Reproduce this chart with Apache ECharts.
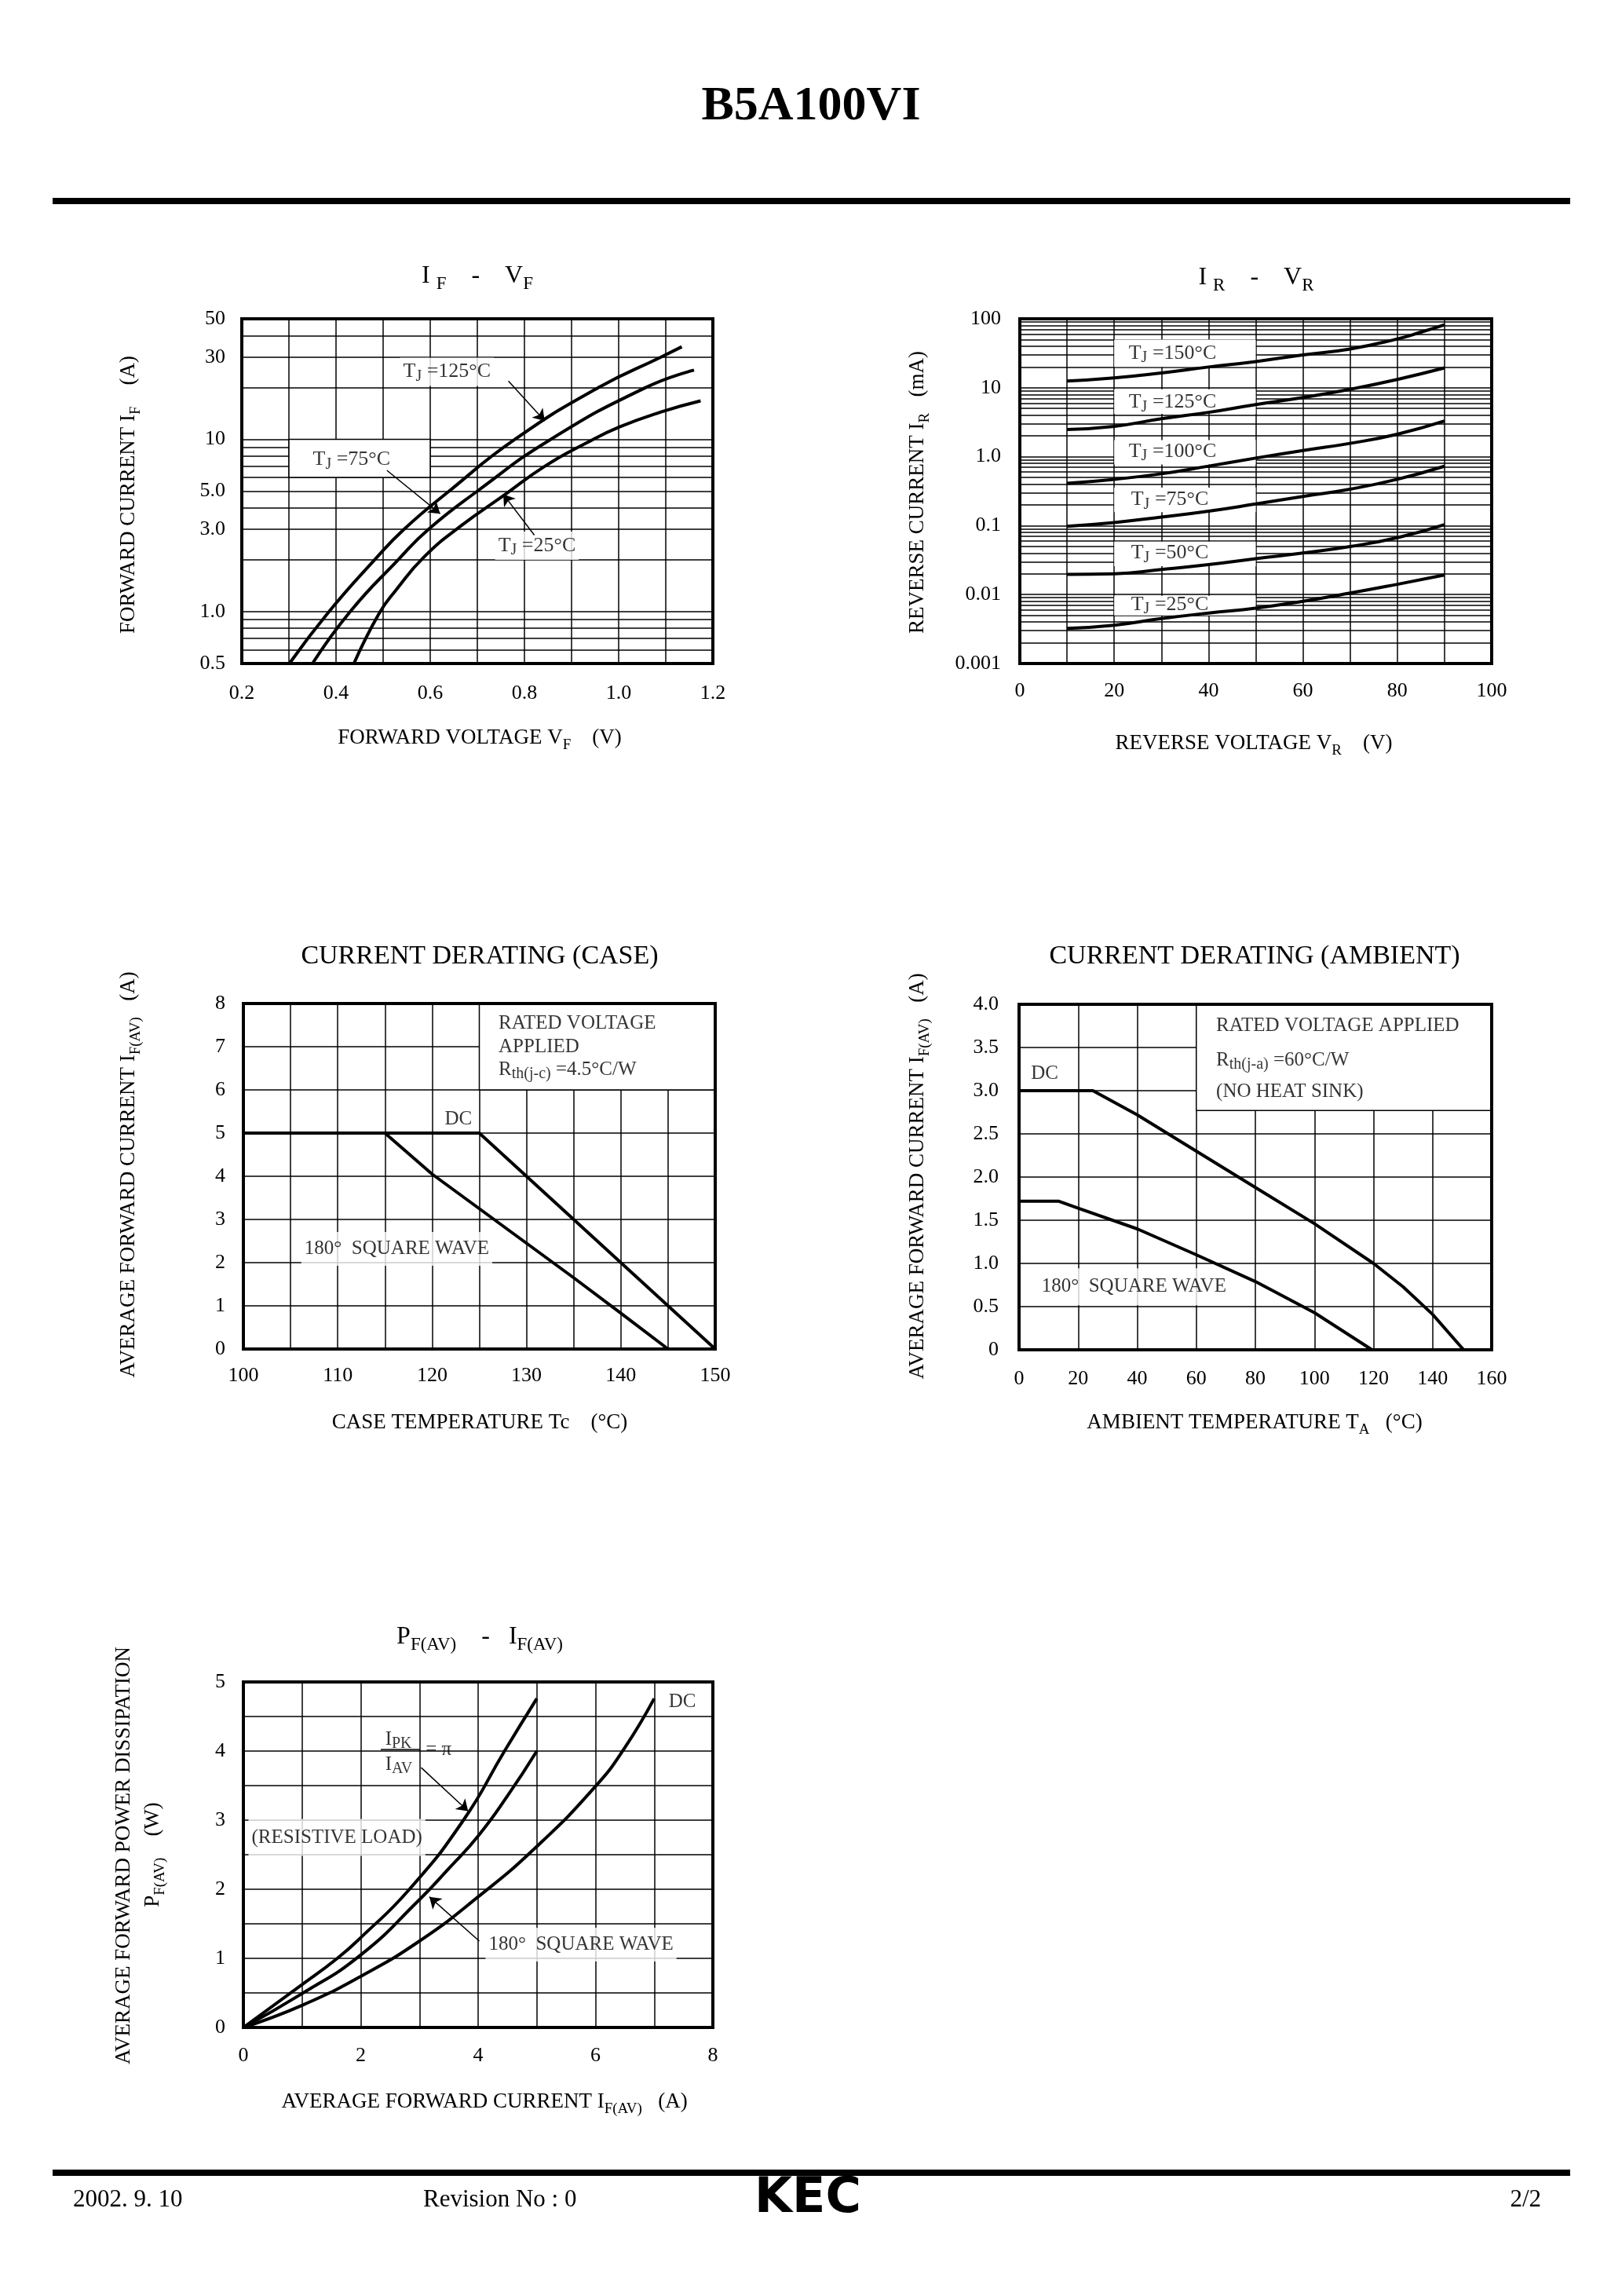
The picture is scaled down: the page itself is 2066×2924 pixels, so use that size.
<!DOCTYPE html>
<html lang="en">
<head>
<meta charset="UTF-8">
<title>B5A100VI</title>
<script src="https://cdn.jsdelivr.net/npm/echarts@6.0.0/dist/echarts.min.js"></script>
<style>
  html, body { margin: 0; padding: 0; background: #fff; }
  #page { width: 2066px; height: 2924px; }
</style>
</head>
<body>
<div id="page"></div>
<script>
// ---- IF - VF (x: V, y: A, log) ----
var vfLabels = [0.2, 0.4, 0.6, 0.8, 1.0, 1.2];
var ifLabels = [0.5, 1, 3, 5, 10, 30, 50];
var ifGrid = [0.5, 0.6, 0.7, 0.8, 0.9, 1, 2, 3, 4, 5, 6, 7, 8, 9, 10, 20, 30, 40, 50];
var if125 = [[0.301, 0.5], [0.385, 1.0], [0.482, 2.0], [0.544, 3.0], [0.64, 5.0], [0.78, 10], [0.958, 20], [1.09, 30], [1.134, 34.4]];
var if75 = [[0.35, 0.5], [0.43, 1.0], [0.532, 2.0], [0.596, 3.0], [0.70, 5.0], [0.856, 10], [1.058, 20], [1.16, 25.2]];
var if25 = [[0.438, 0.5], [0.491, 0.97], [0.526, 1.32], [0.588, 2.09], [0.667, 3.17], [0.755, 4.7], [0.843, 6.97], [0.931, 9.5], [1.002, 11.8], [1.09, 14.4], [1.174, 16.7]];

// ---- IR - VR (x: V, y: mA, log) ----
var vrLabels = [0, 20, 40, 60, 80, 100];
var irLabels = [0.001, 0.01, 0.1, 1, 10, 100];
var irLabelText = ['0.001', '0.01', '0.1', '1.0', '10', '100'];
var irGrid = [];
[0.001, 0.01, 0.1, 1, 10].forEach(function (d) {
  for (var k = 1; k < 10; k++) irGrid.push(+(d * k).toPrecision(3));
});
irGrid.push(100);
var ir150 = [[10, 12.5], [20, 13.9], [30, 16.4], [40, 20], [50, 24], [60, 30], [70, 36.5], [80, 51], [85, 64], [90, 82]];
var ir125 = [[10, 2.48], [20, 2.76], [30, 3.55], [40, 4.4], [50, 5.7], [60, 7.2], [70, 9.5], [80, 13.2], [90, 19.4]];
var ir100 = [[10, 0.41], [20, 0.47], [30, 0.565], [40, 0.73], [50, 0.955], [60, 1.23], [70, 1.56], [80, 2.12], [90, 3.29]];
var ir75 = [[10, 0.098], [20, 0.111], [30, 0.133], [40, 0.162], [50, 0.206], [60, 0.265], [70, 0.338], [80, 0.47], [90, 0.727]];
var ir50 = [[10, 0.0196], [20, 0.020], [30, 0.0231], [40, 0.0272], [50, 0.0332], [60, 0.04], [70, 0.0498], [80, 0.0668], [90, 0.1035]];
var ir25 = [[10, 0.00323], [20, 0.0036], [30, 0.00448], [40, 0.0054], [50, 0.00636], [60, 0.008], [70, 0.0105], [80, 0.0141], [90, 0.0192]];

// ---- current derating (case) ----
var tcLabels = [100, 110, 120, 130, 140, 150];
var caseILabels = [0, 1, 2, 3, 4, 5, 6, 7, 8];
var caseDC = [[100, 5], [125, 5], [150, 0]];
var caseSq = [[100, 5], [115, 5], [120, 4.05], [125, 3.25], [130, 2.45], [135, 1.65], [140, 0.83], [145, 0]];

// ---- current derating (ambient) ----
var taLabels = [0, 20, 40, 60, 80, 100, 120, 140, 160];
var ambILabels = [0, 0.5, 1, 1.5, 2, 2.5, 3, 3.5, 4];
var ambDC = [[0, 3.0], [25, 3.0], [40, 2.72], [60, 2.30], [80, 1.88], [100, 1.46], [120, 1.0], [130, 0.73], [140, 0.41], [150.5, 0]];
var ambSq = [[0, 1.72], [13.5, 1.72], [20, 1.64], [40, 1.40], [60, 1.10], [80, 0.79], [100, 0.43], [119.5, 0]];

// ---- PF(AV) - IF(AV) ----
var iavLabels = [0, 2, 4, 6, 8];
var pavLabels = [0, 1, 2, 3, 4, 5];
var pfPi = [[0, 0], [1, 0.62], [1.6, 1.0], [2, 1.3], [2.83, 2.0], [3.75, 3.0], [4.45, 4.0], [5, 4.76]];
var pfSq = [[0, 0], [1, 0.49], [2, 1.05], [3, 1.85], [3.5, 2.3], [4, 2.77], [4.5, 3.35], [5, 4.0]];
var pfDC = [[0, 0], [1, 0.32], [2, 0.74], [3, 1.25], [4, 1.89], [5, 2.62], [6, 3.49], [6.5, 4.05], [7, 4.76]];

var F = 'Liberation Serif';
var BLACK = '#000';

function sub(size) {
  return { s: { fontFamily: F, fontSize: size, lineHeight: size, verticalAlign: 'bottom', color: BLACK } };
}

function gridBox(left, top, width, height) {
  return {
    left: left, top: top, width: width, height: height,
    show: true, borderColor: BLACK, borderWidth: 4, backgroundColor: 'transparent',
    z: 2, containLabel: false, outerBoundsMode: 'none'
  };
}

function labelStyle(values, fmt, margin) {
  return { customValues: values, formatter: fmt, margin: margin, color: BLACK, fontFamily: F, fontSize: 26 };
}

function valAxis(gi, min, max, interval, labels, fmt, margin) {
  return {
    type: 'value', gridIndex: gi, min: min, max: max, interval: interval,
    axisLine: { show: false }, axisTick: { show: false },
    splitLine: { show: true, lineStyle: { color: BLACK, width: 1.5 } },
    axisLabel: labelStyle(labels, fmt, margin)
  };
}

function logAxis(gi, min, max, grid, labels, fmt, margin) {
  return {
    type: 'log', logBase: 10, gridIndex: gi, min: min, max: max,
    axisLine: { show: false }, axisTick: { show: false, customValues: grid },
    splitLine: { show: true, lineStyle: { color: BLACK, width: 1.5 } },
    minorTick: { show: false }, minorSplitLine: { show: false },
    axisLabel: labelStyle(labels, fmt, margin)
  };
}

function curve(gi, data, smooth) {
  return {
    type: 'line', xAxisIndex: gi, yAxisIndex: gi, data: data, smooth: smooth,
    showSymbol: false, symbol: 'none', silent: true, z: 4,
    lineStyle: { color: BLACK, width: 4 }
  };
}

// texts: [x, y, text, padding?]; boxes: [x1, y1, x2, y2, border]; lines: [x1, y1, x2, y2]
function notes(gi, fs, texts, boxes, lines, ends) {
  var subSize = Math.round(fs * 0.78);
  return {
    type: 'scatter', xAxisIndex: gi, yAxisIndex: gi, z: 3, silent: true,
    symbol: 'circle', symbolSize: 1, itemStyle: { color: 'rgba(0,0,0,0)' },
    label: {
      show: true, position: 'right', distance: 0, fontFamily: F, fontSize: fs,
      color: BLACK, textBorderWidth: 0, lineHeight: fs + 6, rich: sub(subSize)
    },
    data: texts.map(function (t) {
      var lab = { formatter: t[2] };
      if (t[3]) { lab.backgroundColor = '#fff'; lab.padding = t[3]; }
      return { value: [t[0], t[1]], label: lab };
    }),
    markArea: {
      silent: true, label: { show: false },
      data: boxes.map(function (b) {
        return [{ coord: [b[0], b[1]], itemStyle: { color: '#fff', borderColor: BLACK, borderWidth: b[4] } },
                { coord: [b[2], b[3]] }];
      })
    },
    markLine: {
      silent: true, symbol: ends || ['none', 'arrow'], symbolSize: 14, animation: false,
      label: { show: false },
      lineStyle: { color: BLACK, width: 1.5, type: 'solid' },
      data: lines.map(function (a) {
        return [{ coord: [a[0], a[1]] }, { coord: [a[2], a[3]] }];
      })
    }
  };
}

function txt(x, y, text, size, opts) {
  opts = opts || {};
  return {
    type: 'text', x: x, y: y, rotation: opts.rot || 0, z: 10,
    style: {
      text: text, fontFamily: F, fontSize: size, fontWeight: opts.weight || 'normal',
      fill: BLACK, align: opts.align || 'center', verticalAlign: 'middle',
      lineHeight: size + 10, rich: sub(Math.round(size * 0.72))
    }
  };
}

function fixed1(v) { return v === 0 ? '0' : v.toFixed(1); }
function plain(v) { return String(v); }

var chart = echarts.init(document.getElementById('page'));

var ROT = Math.PI / 2;
chart.setOption({
  animation: false,
  backgroundColor: '#fff',
  grid: [
    gridBox(308, 406, 600, 439),
    gridBox(1299, 406, 601, 439),
    gridBox(310, 1278, 601, 440),
    gridBox(1298, 1279, 602, 440),
    gridBox(310, 2142, 598, 440)
  ],
  xAxis: [
    valAxis(0, 0.2, 1.2, 0.1, vfLabels, function (v) { return v.toFixed(1); }, 25),
    valAxis(1, 0, 100, 10, vrLabels, plain, 22),
    valAxis(2, 100, 150, 5, tcLabels, plain, 21),
    valAxis(3, 0, 160, 20, taLabels, plain, 24),
    valAxis(4, 0, 8, 1, iavLabels, plain, 23)
  ],
  yAxis: [
    logAxis(0, 0.5, 50, ifGrid, ifLabels, function (v) { return v < 9.5 ? v.toFixed(1) : String(Math.round(v)); }, 21),
    logAxis(1, 0.001, 100, irGrid, irLabels, function (v) {
      var best = 0;
      irLabels.forEach(function (t, i) {
        if (Math.abs(Math.log10(t) - Math.log10(v)) < Math.abs(Math.log10(irLabels[best]) - Math.log10(v))) best = i;
      });
      return irLabelText[best];
    }, 24),
    valAxis(2, 0, 8, 1, caseILabels, plain, 23),
    valAxis(3, 0, 4, 0.5, ambILabels, fixed1, 26),
    valAxis(4, 0, 5, 0.5, pavLabels, plain, 23)
  ],
  series: [
    curve(0, if125, true), curve(0, if75, true), curve(0, if25, true),
    notes(0, 26, [
      [0.535, 24.6, 'T{s|J} =125°C', [2, 4]],
      [0.35, 7.6, 'T{s|J} =75°C'],
      [0.737, 2.41, 'T{s|J} =25°C', [2, 4]]
    ], [
      [0.3, 6, 0.6, 10, 1.5]
    ], [
      [0.766, 21.8, 0.843, 12.8],
      [0.508, 6.6, 0.621, 3.7],
      [0.821, 2.78, 0.755, 4.8]
    ]),

    curve(1, ir150, true), curve(1, ir125, true), curve(1, ir100, true),
    curve(1, ir75, true), curve(1, ir50, true), curve(1, ir25, true),
    notes(1, 26, [
      [23, 31.7, 'T{s|J} =150°C'],
      [23, 6.1, 'T{s|J} =125°C'],
      [23, 1.19, 'T{s|J} =100°C'],
      [23.5, 0.238, 'T{s|J} =75°C'],
      [23.5, 0.04, 'T{s|J} =50°C'],
      [23.5, 0.00716, 'T{s|J} =25°C']
    ], [
      [20, 20, 50, 50, 0],
      [20, 4.2, 50, 9.5, 0],
      [20, 0.77, 50, 1.74, 0],
      [20, 0.157, 50, 0.356, 0],
      [20, 0.0258, 50, 0.0586, 0],
      [20, 0.005, 50, 0.0096, 0]
    ], []),

    curve(2, caseDC, false), curve(2, caseSq, false),
    notes(2, 25, [
      [127, 7.53, 'RATED VOLTAGE'],
      [127, 7.0, 'APPLIED'],
      [127, 6.46, 'R{s|th(j-c)} =4.5°C/W'],
      [121.3, 5.32, 'DC'],
      [106.1, 2.32, '180°  SQUARE WAVE', [6, 4]]
    ], [
      [125, 6, 150, 8, 1.5]
    ], []),

    curve(3, ambDC, false), curve(3, ambSq, false),
    notes(3, 25, [
      [66.6, 3.75, 'RATED VOLTAGE APPLIED'],
      [66.6, 3.35, 'R{s|th(j-a)} =60°C/W'],
      [66.6, 2.99, '(NO HEAT SINK)'],
      [3.9, 3.2, 'DC'],
      [5.9, 0.73, '180°  SQUARE WAVE', [8, 6]]
    ], [
      [60, 2.77, 160, 4.0, 1.5]
    ], []),

    curve(4, pfPi, true), curve(4, pfSq, true), curve(4, pfDC, true),
    notes(4, 25, [
      [7.24, 4.71, 'DC'],
      [2.41, 4.17, 'I{s|PK}'],
      [2.41, 3.8, 'I{s|AV}'],
      [3.1, 4.02, '= π'],
      [0.08, 2.75, '(RESISTIVE LOAD)', [8, 4]],
      [4.12, 1.2, '180°  SQUARE WAVE', [6, 4]]
    ], [], [
      [3.03, 3.76, 3.83, 3.13],
      [4.02, 1.25, 3.17, 1.89]
    ]),
    // fraction bar of Ipk / Iav
    notes(4, 25, [], [], [
      [2.34, 4.02, 3.01, 4.02]
    ], ['none', 'none'])
  ],
  graphic: [
    txt(1033, 136, 'B5A100VI', 62, { weight: 'bold' }),
    { type: 'rect', shape: { x: 67, y: 252, width: 1933, height: 8 }, style: { fill: BLACK } },
    { type: 'rect', shape: { x: 67, y: 2763, width: 1933, height: 8 }, style: { fill: BLACK } },
    txt(93, 2802, '2002. 9. 10', 31, { align: 'left' }),
    txt(539, 2802, 'Revision No : 0', 31, { align: 'left' }),
    txt(1963, 2802, '2/2', 31, { align: 'right' }),
    {
      type: 'text', x: 1029, y: 2801, z: 10,
      style: { text: 'KEC', fontFamily: 'DejaVu Sans', fontSize: 62, fontWeight: 900, fill: BLACK, align: 'center', verticalAlign: 'middle' }
    },

    txt(608, 352, 'I {s|F}    -    V{s|F}', 32),
    txt(164, 630, 'FORWARD CURRENT I{s|F}    (A)', 27, { rot: ROT }),
    txt(611, 940, 'FORWARD VOLTAGE V{s|F}    (V)', 27),

    txt(1600, 354, 'I {s|R}    -    V{s|R}', 32),
    txt(1169, 627, 'REVERSE CURRENT I{s|R}   (mA)', 27, { rot: ROT }),
    txt(1597, 947, 'REVERSE VOLTAGE V{s|R}    (V)', 27),

    txt(611, 1218, 'CURRENT DERATING (CASE)', 34),
    txt(164, 1496, 'AVERAGE FORWARD CURRENT I{s|F(AV)}   (A)', 27, { rot: ROT }),
    txt(611, 1812, 'CASE TEMPERATURE Tc    (°C)', 27),

    txt(1598, 1218, 'CURRENT DERATING (AMBIENT)', 34),
    txt(1169, 1498, 'AVERAGE FORWARD CURRENT I{s|F(AV)}   (A)', 27, { rot: ROT }),
    txt(1598, 1812, 'AMBIENT TEMPERATURE T{s|A}   (°C)', 27),

    txt(611, 2085, 'P{s|F(AV)}    -   I{s|F(AV)}', 32),
    txt(158, 2363, 'AVERAGE FORWARD POWER DISSIPATION', 27, { rot: ROT }),
    txt(195, 2362, 'P{s|F(AV)}    (W)', 27, { rot: ROT }),
    txt(617, 2677, 'AVERAGE FORWARD CURRENT I{s|F(AV)}   (A)', 27)
  ]
});
</script>
</body>
</html>
